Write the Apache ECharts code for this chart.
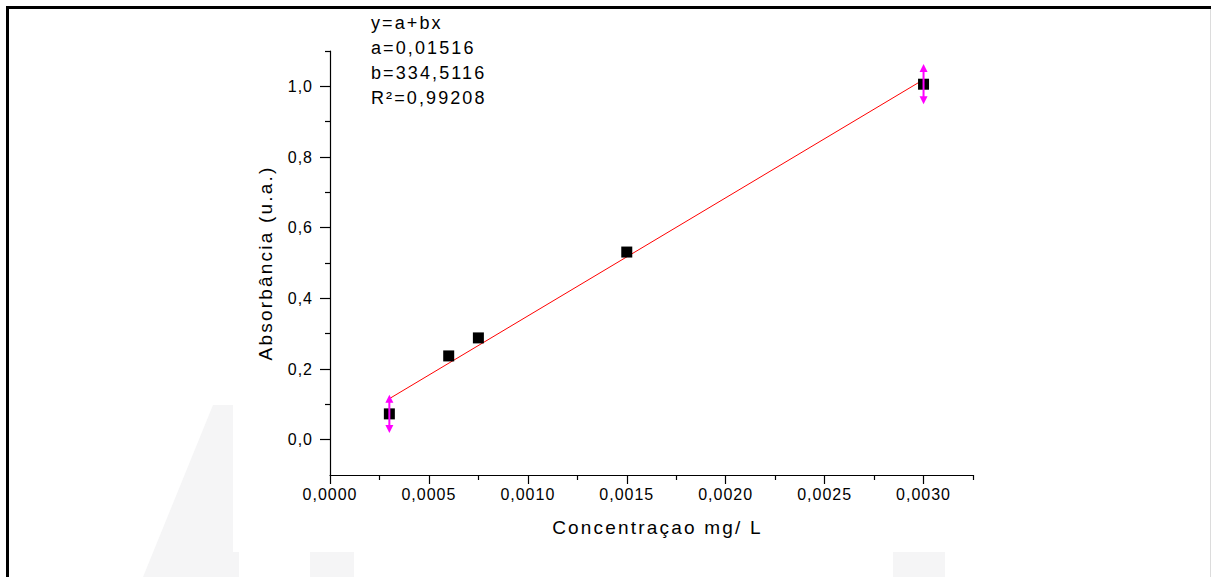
<!DOCTYPE html>
<html>
<head>
<meta charset="utf-8">
<title>Curva de calibração</title>
<script src="https://cdn.jsdelivr.net/npm/echarts@6/dist/echarts.min.js"></script>
<style>
  html, body { margin: 0; padding: 0; background: #fff; }
  #chart { width: 1211px; height: 577px; }
  /* wide letter spacing of the original scan */
  #chart text[style*="16px"] { letter-spacing: 1px; }
  #chart text[style*="18px"] { letter-spacing: 2.1px; }
  #chart text[style*="19px"] { letter-spacing: 2.2px; }
</style>
</head>
<body>
<div id="chart"></div>
<script>
// ticks
const xTicks = [0, 0.0005, 0.001, 0.0015, 0.002, 0.0025, 0.003];
const xMinorTicks = [0.00025, 0.00075, 0.00125, 0.00175, 0.00225, 0.00275, 0.00325];
const yTicks = [0, 0.2, 0.4, 0.6, 0.8, 1.0];
const yMinorTicks = [0.1, 0.3, 0.5, 0.7, 0.9, 1.1];

// measured points
const concentration = [0.0003, 0.0006, 0.00075, 0.0015, 0.003];
const absorbance = [0.073, 0.237, 0.288, 0.531, 1.006];
const absError = [0.054, 0, 0, 0, 0.057];

// linear fit
const fitX = [0.0003, 0.003];
const fitY = [0.116, 1.019];
const fitText = ['y=a+bx', 'a=0,01516', 'b=334,5116', 'R²=0,99208'];

const font = 'Liberation Sans';

const axisLine = {
  show: true,
  onZero: false,
  lineStyle: { color: '#000', width: 1.2 },
};

const tickStyle = { color: '#000', width: 1.2 };

const fmtY = v => v.toFixed(1).replace('.', ',');
const fmtX = v => v.toFixed(4).replace('.', ',');

const chart = echarts.init(document.getElementById('chart'), null, { renderer: 'svg' });

const option = {
  animation: false,
  backgroundColor: '#fff',
  grid: {
    left: 330,
    right: 238,
    top: 51,
    bottom: 102,
    outerBoundsMode: 'none',
  },
  xAxis: [{
    type: 'value',
    min: 0,
    max: 0.00325,
    position: 'bottom',
    axisLine,
    splitLine: { show: false },
    axisTick: { show: true, length: 9, lineStyle: tickStyle, customValues: xTicks },
    axisLabel: {
      customValues: xTicks,
      formatter: fmtX,
      margin: 11,
      fontFamily: font,
      fontSize: 16,
      color: '#000',
    },
    name: 'Concentraçao mg/ L',
    nameLocation: 'middle',
    nameGap: 43,
    nameTextStyle: { fontFamily: font, fontSize: 19, color: '#000', padding: [0, 0, 0, 12] },
  }, {
    type: 'value',
    min: 0,
    max: 0.00325,
    position: 'bottom',
    axisLine: { show: false, onZero: false },
    splitLine: { show: false },
    axisTick: { show: true, length: 5, lineStyle: tickStyle, customValues: xMinorTicks },
    axisLabel: { show: false },
  }],
  yAxis: [{
    type: 'value',
    min: -0.1,
    max: 1.1,
    position: 'left',
    axisLine,
    splitLine: { show: false },
    axisTick: { show: true, length: 10, lineStyle: tickStyle, customValues: yTicks },
    axisLabel: {
      customValues: yTicks,
      formatter: fmtY,
      margin: 17,
      fontFamily: font,
      fontSize: 16,
      color: '#000',
    },
    name: 'Absorbância (u.a.)',
    nameLocation: 'middle',
    nameGap: 55,
    nameTextStyle: { fontFamily: font, fontSize: 19, color: '#000' },
  }, {
    type: 'value',
    min: -0.1,
    max: 1.1,
    position: 'left',
    axisLine: { show: false, onZero: false },
    splitLine: { show: false },
    axisTick: { show: true, length: 5, lineStyle: tickStyle, customValues: yMinorTicks },
    axisLabel: { show: false },
  }],
  graphic: [
    // faint watermark shapes from the scan
    {
      type: 'polygon', z: -10, silent: true,
      shape: { points: [[213, 405], [233, 405], [233, 552], [239, 552], [239, 577], [143, 577]] },
      style: { fill: '#f5f5f6' },
    },
    { type: 'rect', z: -10, silent: true, shape: { x: 310, y: 552, width: 44, height: 25 }, style: { fill: '#f5f5f6' } },
    { type: 'rect', z: -10, silent: true, shape: { x: 893, y: 552, width: 52, height: 25 }, style: { fill: '#f5f5f6' } },
    // frame
    { type: 'line', shape: { x1: 6, y1: 7.5, x2: 1211, y2: 7.5 }, style: { stroke: '#000', lineWidth: 3 } },
    { type: 'line', shape: { x1: 7.5, y1: 6, x2: 7.5, y2: 577 }, style: { stroke: '#000', lineWidth: 3 } },
    { type: 'line', shape: { x1: 1210.5, y1: 9, x2: 1210.5, y2: 577 }, style: { stroke: '#dcdcdc', lineWidth: 1 } },
    // fit parameters
    {
      type: 'text',
      left: 371,
      top: 10,
      style: {
        text: fitText.join('\n'),
        fontFamily: font,
        fontSize: 18,
        lineHeight: 25,
        fill: '#000',
      },
    },
  ],
  series: [{
    type: 'line',
    xAxisIndex: 0,
    yAxisIndex: 0,
    data: fitX.map((x, i) => [x, fitY[i]]),
    showSymbol: false,
    lineStyle: { color: '#ff0000', width: 1 },
    z: 2,
  }, {
    type: 'scatter',
    xAxisIndex: 0,
    yAxisIndex: 0,
    data: concentration.map((x, i) => [x, absorbance[i]]),
    symbol: 'rect',
    symbolSize: 11,
    itemStyle: { color: '#000', opacity: 1 },
    z: 3,
  }, {
    type: 'custom',
    xAxisIndex: 0,
    yAxisIndex: 0,
    clip: false,
    z: 4,
    data: concentration.map((x, i) => [x, absorbance[i], absError[i]]),
    renderItem(params, api) {
      const x = api.value(0);
      const y = api.value(1);
      const e = api.value(2);
      if (!e) return;
      const top = api.coord([x, y + e]);
      const bot = api.coord([x, y - e]);
      const w = 4;
      const h = 8;
      const magenta = '#ff00ff';
      return {
        type: 'group',
        children: [{
          type: 'line',
          shape: { x1: top[0], y1: top[1] + h / 2, x2: bot[0], y2: bot[1] - h / 2 },
          style: { stroke: magenta, lineWidth: 2 },
        }, {
          type: 'polygon',
          shape: { points: [[top[0], top[1]], [top[0] - w, top[1] + h], [top[0] + w, top[1] + h]] },
          style: { fill: magenta },
        }, {
          type: 'polygon',
          shape: { points: [[bot[0], bot[1]], [bot[0] - w, bot[1] - h], [bot[0] + w, bot[1] - h]] },
          style: { fill: magenta },
        }],
      };
    },
  }],
};

chart.setOption(option);
</script>
</body>
</html>
